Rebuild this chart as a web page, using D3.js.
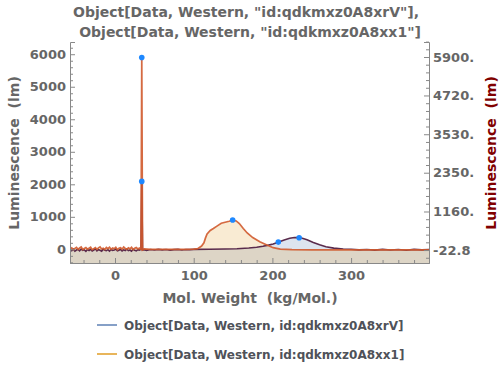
<!DOCTYPE html>
<html><head><meta charset="utf-8">
<script src="https://cdn.jsdelivr.net/npm/d3@7"></script>
<style>
body{margin:0;background:#fff}
svg{display:block}
text{font-family:"DejaVu Sans",sans-serif;font-weight:bold}
</style></head><body>
<script>
// ---- data ----
const titleLines = ['Object[Data, Western, "id:qdkmxz0A8xrV"],', 'Object[Data, Western, "id:qdkmxz0A8xx1"]'];
const seriesNames = ["Object[Data, Western, id:qdkmxz0A8xrV]", "Object[Data, Western, id:qdkmxz0A8xx1]"];
const xTicks = [0, 100, 200, 300];
const yLeftTicks = [0, 1000, 2000, 3000, 4000, 5000, 6000];
const yRightTicks = [-22.8, 1160, 2350, 3530, 4720, 5900];
const yRightLabels = ["-22.8", "1160.", "2350.", "3530.", "4720.", "5900."];

const blueX = [-57,-55,-53,-51,-49,-47,-45,-43,-41,-39,-37,-35,-33,-31,-29,-27,-25,-23,-21,-19,-17,-15,-13,-11,-9,-7,-5,-3,-1,1,3,5,7,9,11,13,15,17,19,21,23,25,27,29,31,32,33,34,35,37,40,45,50,55,60,65,70,75,80,85,90,95,100,120,140,155,170,180,188,195,201,208,215,222,228,233,238,244,252,260,268,278,290,300,310,320,330,340,350,360,370,380,390,399];
const blueY = [-10,-40,5,-55,-20,0,-45,10,-30,-15,-60,-5,-35,0,-50,-20,15,-45,-10,-30,-60,5,-25,-40,-10,-55,-5,-35,-20,10,-45,-25,0,-50,-15,-35,5,-40,-20,-55,0,-30,-45,-10,-25,-10,0,2090,-20,-10,-30,-5,-20,0,-15,-5,-25,-10,0,-20,-5,-10,0,5,10,20,40,65,95,130,165,225,290,340,362,360,340,292,212,140,80,38,12,3,-15,-5,-25,0,-20,-5,-30,0,-15,-5];

const orangeX = [-57,-55,-53,-51,-49,-47,-45,-43,-41,-39,-37,-35,-33,-31,-29,-27,-25,-23,-21,-19,-17,-15,-13,-11,-9,-7,-5,-3,-1,1,3,5,7,9,11,13,15,17,19,21,23,25,27,29,31,32,33,34,35,37,45,60,75,90,100,105,110,113,115,117,121,125,130,135,140,145,150,154,158,163,168,175,184,193,201,210,225,250,280,320,360,399];
const orangeY = [10,45,-10,30,60,0,40,70,-5,25,55,5,35,65,-10,20,50,0,45,75,10,30,-5,55,20,65,0,40,15,60,-10,35,50,5,70,25,0,45,15,60,-5,30,55,10,40,10,0,5886,-20,10,0,-5,0,-5,5,20,100,200,350,470,580,640,720,800,830,860,895,870,790,640,500,360,230,130,50,5,-10,-15,-20,-15,-20,-15];

const markerX = [34, 34, 149.5, 207.5, 234];
const markerY = [5886, 2090, 900, 223, 355];

// ---- layout ----
const W = 500, H = 370;
const L = 70, R = 429, T = 42, B = 263;
const svg = d3.select("body").append("svg").attr("width", W).attr("height", H);

const x = d3.scaleLinear().domain([-57.2, 399]).range([L, R]);
const yL = d3.scaleLinear().domain([-420, 6376]).range([B, T]);
const yR = d3.scaleLinear().domain([-420, 6360]).range([B, T]);

const blue = blueX.map((d, i) => [d, blueY[i]]);
const orange = orangeX.map((d, i) => [d, orangeY[i]]);

svg.append("clipPath").attr("id", "c").append("rect")
  .attr("x", L).attr("y", T).attr("width", R - L).attr("height", B - T);
const g = svg.append("g").attr("clip-path", "url(#c)");

const areaB = d3.area().x(d => x(d[0])).y0(B).y1(d => yL(d[1]));
const areaO = d3.area().x(d => x(d[0])).y0(B).y1(d => yR(d[1]));
g.append("path").datum(blue).attr("d", areaB).attr("fill", "#5e81b5").attr("fill-opacity", 0.21);
g.append("path").datum(orange).attr("d", areaO).attr("fill", "#e09c24").attr("fill-opacity", 0.2);

const lineB = d3.line().x(d => x(d[0])).y(d => yL(d[1]));
const lineO = d3.line().x(d => x(d[0])).y(d => yR(d[1]));
g.append("path").datum(blue).attr("d", lineB).attr("fill", "none").attr("stroke", "#5a2b4c").attr("stroke-width", 1.6);
g.append("path").datum(orange).attr("d", lineO).attr("fill", "none").attr("stroke", "#d05a2e").attr("stroke-width", 1.7).attr("stroke-opacity", 0.9);

g.selectAll("circle.m").data(markerX).enter().append("circle")
  .attr("cx", d => x(d)).attr("cy", (d, i) => i === 1 || i >= 3 ? yL(markerY[i]) : yR(markerY[i]))
  .attr("r", 2.8).attr("fill", "#1e88ff");

// ---- axes ----
const axisColor = "#888";
const labelColor = "#666";
function styleAxis(sel) {
  sel.selectAll("path.domain").attr("stroke", axisColor);
  sel.selectAll(".tick line").attr("stroke", axisColor);
  sel.selectAll(".tick text").attr("fill", labelColor).attr("font-size", 13)
    .attr("font-family", '"DejaVu Sans",sans-serif').attr("font-weight", "bold");
}
const minorX = d3.range(-40, 400, 20).filter(v => v % 100 !== 0);
const minorYL = d3.range(-400, 6300, 200).filter(v => v % 1000 !== 0);
const minorYR = [];
for (let i = 0; i < yRightTicks.length - 1; i++) {
  const a = yRightTicks[i], b = yRightTicks[i + 1];
  for (let k = 1; k < 5; k++) minorYR.push(a + (b - a) * k / 5);
}
minorYR.push(-22.8 - (1160 + 22.8) / 5);
[1, 2].forEach(k => minorYR.push(5900 + (5900 - 4720) / 5 * k));

// bottom
const gx = svg.append("g").attr("transform", `translate(0,${B})`)
  .call(d3.axisBottom(x).tickValues(xTicks).tickFormat(d3.format("d")).tickSize(-5).tickPadding(8));
styleAxis(gx);
const gxm = svg.append("g").attr("transform", `translate(0,${B})`)
  .call(d3.axisBottom(x).tickValues(minorX).tickFormat("").tickSize(-3));
styleAxis(gxm); gxm.select("path.domain").remove();

// left
const gl = svg.append("g").attr("transform", `translate(${L},0)`)
  .call(d3.axisLeft(yL).tickValues(yLeftTicks).tickFormat(d3.format("d")).tickSize(-5).tickPadding(4));
styleAxis(gl);
const glm = svg.append("g").attr("transform", `translate(${L},0)`)
  .call(d3.axisLeft(yL).tickValues(minorYL).tickFormat("").tickSize(-3));
styleAxis(glm); glm.select("path.domain").remove();

// right
const gr = svg.append("g").attr("transform", `translate(${R},0)`)
  .call(d3.axisRight(yR).tickValues(yRightTicks).tickFormat((d, i) => yRightLabels[i]).tickSize(-5).tickPadding(4));
styleAxis(gr);
const grm = svg.append("g").attr("transform", `translate(${R},0)`)
  .call(d3.axisRight(yR).tickValues(minorYR).tickFormat("").tickSize(-3));
styleAxis(grm); grm.select("path.domain").remove();

// ---- labels ----
svg.append("text").attr("x", 246).attr("y", 17).attr("text-anchor", "middle")
  .attr("font-size", 14).attr("fill", labelColor).text(titleLines[0]);
svg.append("text").attr("x", 250).attr("y", 37).attr("text-anchor", "middle")
  .attr("font-size", 14).attr("fill", labelColor).text(titleLines[1]);

svg.append("text").attr("transform", "translate(19,153) rotate(-90)").attr("text-anchor", "middle")
  .attr("font-size", 14).attr("fill", labelColor).attr("xml:space", "preserve").text("Luminescence  (lm)");
svg.append("text").attr("transform", "translate(496,153) rotate(-90)").attr("text-anchor", "middle")
  .attr("font-size", 14).attr("fill", "#800000").attr("xml:space", "preserve").text("Luminescence  (lm)");
svg.append("text").attr("x", 250).attr("y", 303).attr("text-anchor", "middle")
  .attr("font-size", 14).attr("fill", labelColor).attr("xml:space", "preserve").text("Mol. Weight  (kg/Mol.)");

// ---- legend ----
const legColors = ["#5e81b5", "#e19c24"];
const legY = [325, 354];
seriesNames.forEach((n, i) => {
  svg.append("line").attr("x1", 97).attr("x2", 117).attr("y1", legY[i]).attr("y2", legY[i])
    .attr("stroke", legColors[i]).attr("stroke-width", 1.5);
  svg.append("text").attr("x", 124).attr("y", legY[i] + 4.5).attr("font-size", 12)
    .attr("fill", "#4f5259").text(n);
});
</script>
</body></html>
